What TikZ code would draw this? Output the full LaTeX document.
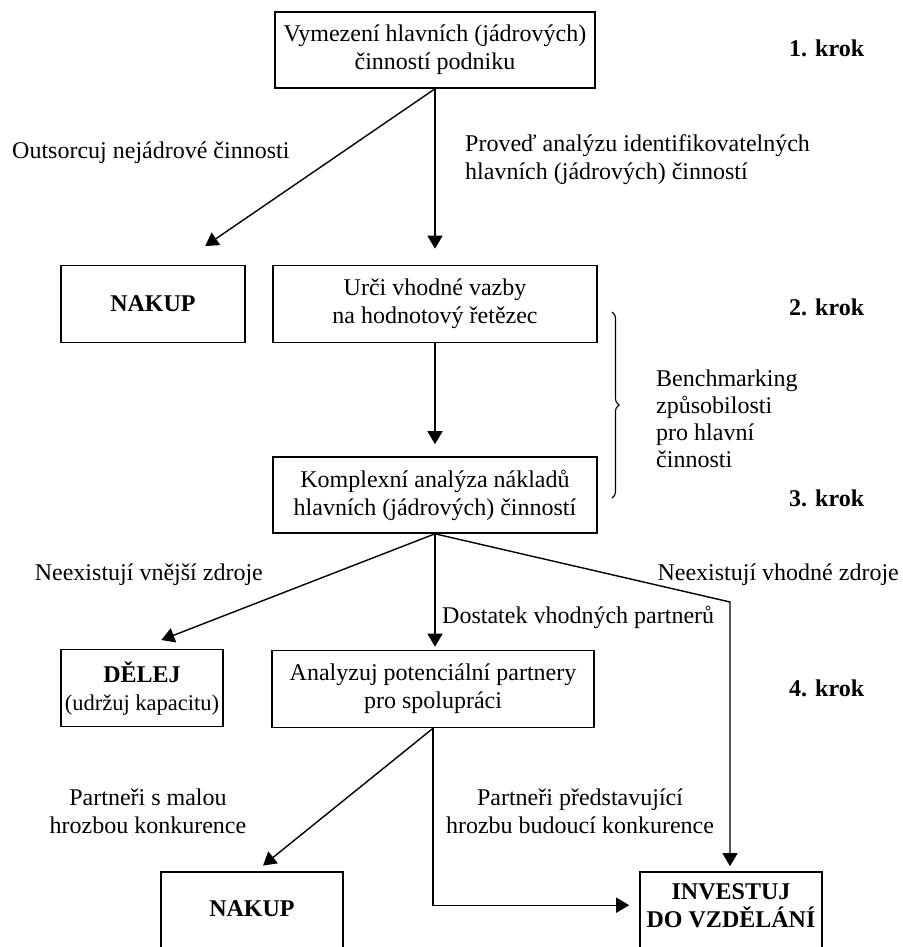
\documentclass[tikz,border=0pt]{standalone}
\usepackage{fontspec}
\setmainfont{Liberation Serif}
\usetikzlibrary{arrows.meta,calc,decorations.pathreplacing}
\tikzset{
  box/.style={draw, line width=1.6pt, align=center, inner sep=0pt,
    font=\fontsize{24}{28}\selectfont},
  txt/.style={align=center, inner sep=0pt, font=\fontsize{24}{28}\selectfont},
  krok/.style={anchor=west, inner sep=0pt, font=\fontsize{24}{28}\selectfont\bfseries},
  arr/.style={line width=1.4pt, -{Triangle[length=13pt,width=15pt]}}
}
\begin{document}
\begin{tikzpicture}[x=1pt,y=-1pt]
\useasboundingbox (0,0) rectangle (902,947);
\clip (0,0) rectangle (902,947);
% boxes
\node[box, minimum width=320, minimum height=76] (top) at (435,50)
  {Vymezení hlavních (jádrových)\\činností podniku};
\node[box, minimum width=184, minimum height=77] (nakupA) at (153,304) {\bfseries NAKUP};
\node[box, minimum width=324, minimum height=77] (urci) at (435,304)
  {Urči vhodné vazby\\na hodnotový řetězec};
\node[box, minimum width=324, minimum height=76] (kompl) at (435,495)
  {Komplexní analýza nákladů\\hlavních (jádrových) činností};
\node[box, minimum width=162, minimum height=77] (delej) at (142,688)
  {\bfseries DĚLEJ\\{\fontsize{22.5}{28}\selectfont(udržuj kapacitu)}};
\node[box, minimum width=322, minimum height=77] (analyz) at (433,689)
  {Analyzuj potenciální partnery\\pro spolupráci};
\node[box, minimum width=182, minimum height=100] (nakupB) at (252,922) {};
\node[txt, font=\fontsize{24}{28}\selectfont\bfseries] (nakupBt) at (252,909) {NAKUP};
\node[box, minimum width=182, minimum height=100] (invest) at (731,922) {};
\node[txt, font=\fontsize{24}{28}\selectfont\bfseries] (investt) at (731,906) {INVESTUJ\\DO VZDĚLÁNÍ};
% step labels
\node[krok] (k1) at (789,48) {1. krok};
\node[krok] (k2) at (789,307) {2. krok};
\node[krok] (k3) at (789,498) {3. krok};
\node[krok] (k4) at (789,688) {4. krok};
% edge labels
\node[txt, anchor=west] (l1) at (12,153) {Outsorcuj nejádrové činnosti};
\node[txt, anchor=west, align=left] (l2) at (465,160)
  {Proveď analýzu identifikovatelných\\hlavních (jádrových) činností};
\node[txt, anchor=west, align=left, font=\fontsize{24}{27}\selectfont] (l3) at (656,419)
  {Benchmarking\\způsobilosti\\pro hlavní\\činnosti};
\node[txt, anchor=east] (l4) at (263,575) {Neexistují vnější zdroje};
\node[txt, anchor=east] (l5) at (899,575) {Neexistují vhodné zdroje};
\node[txt, anchor=west] (l6) at (442,617) {Dostatek vhodných partnerů};
\node[txt] (l7) at (148,811) {Partneři s malou\\hrozbou konkurence};
\node[txt] (l8) at (580,811) {Partneři představující\\hrozbu budoucí konkurence};
% connectors
\coordinate (bend) at (730,602);
\draw[arr, shorten >=33pt] (top.south) -- ($(nakupA.north)+(25,0)$);
\draw[arr, shorten >=16pt] (top.south) -- (urci.north);
\draw[arr, shorten >=12pt] (urci.south) -- (kompl.north);
\draw[arr, shorten >=24pt] (kompl.south) -- ($(delej.north)+(-3,0)$);
\draw[arr, shorten >=3pt] (kompl.south) -- (analyz.north -| kompl.south);
\draw[arr, shorten >=5pt] (kompl.south) -- (bend) -- (bend |- invest.north);
\draw[arr, shorten >=9pt] (analyz.south) -- ($(nakupB.north)+(4,0)$);
\draw[arr, shorten >=10pt] (analyz.south) |- ($(invest.north west)+(0,34)$);
% brace
\draw[line width=1.1pt, decorate, decoration={brace, amplitude=7pt}] (612,312) -- (612,498);
\end{tikzpicture}
\end{document}
